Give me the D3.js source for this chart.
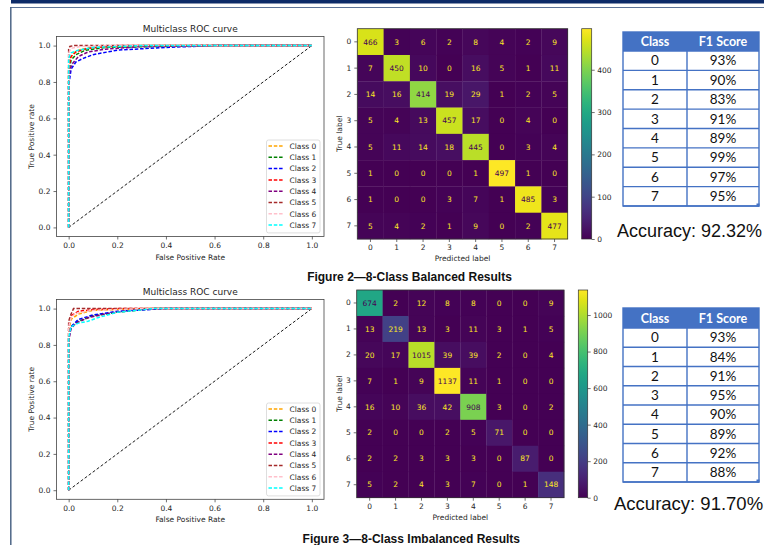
<!DOCTYPE html>
<html><head><meta charset="utf-8">
<script src="https://cdn.jsdelivr.net/npm/d3@7"></script>
<style>
html,body{margin:0;padding:0;background:#fff;}
svg{display:block;}
</style></head>
<body>
<svg id="chart" width="764" height="545"></svg>
<script>
// ---------------- DATA ----------------
const classLabels = ["0","1","2","3","4","5","6","7"];
const rocColors = ["#ffa500","#008000","#0000ff","#ff0000","#800080","#a52a2a","#ffc0cb","#00ffff"];
const legendLabels = ["Class 0","Class 1","Class 2","Class 3","Class 4","Class 5","Class 6","Class 7"];
const rocTicks = [0,0.2,0.4,0.6,0.8,1.0];

// ROC curves (fpr, tpr) – balanced
const rocBal0 = [[0,0],[0,0.88],[0.005,0.93],[0.02,0.96],[0.05,0.98],[0.1,0.99],[0.3,1],[1,1]];
const rocBal1 = [[0,0],[0,0.85],[0.01,0.92],[0.03,0.95],[0.07,0.975],[0.15,0.99],[0.6,1],[1,1]];
const rocBal2 = [[0,0],[0,0.78],[0.01,0.87],[0.03,0.91],[0.06,0.93],[0.1,0.95],[0.2,0.975],[0.4,0.99],[0.6,1],[1,1]];
const rocBal3 = [[0,0],[0,0.88],[0.01,0.94],[0.03,0.965],[0.08,0.985],[0.2,1],[1,1]];
const rocBal4 = [[0,0],[0,0.8],[0.005,0.87],[0.015,0.9],[0.04,0.94],[0.08,0.965],[0.15,0.98],[0.3,0.995],[0.5,1],[1,1]];
const rocBal5 = [[0,0],[0,0.98],[0.005,0.995],[0.02,1],[1,1]];
const rocBal6 = [[0,0],[0,0.96],[0.01,0.985],[0.05,0.995],[0.15,1],[1,1]];
const rocBal7 = [[0,0],[0,0.93],[0.01,0.96],[0.04,0.975],[0.1,0.99],[0.3,1],[1,1]];

// ROC curves – imbalanced
const rocImb0 = [[0,0],[0,0.88],[0.01,0.94],[0.04,0.97],[0.1,0.99],[0.3,1],[1,1]];
const rocImb1 = [[0,0],[0,0.85],[0.01,0.9],[0.04,0.93],[0.1,0.96],[0.2,0.98],[0.35,1],[1,1]];
const rocImb2 = [[0,0],[0,0.84],[0.01,0.9],[0.04,0.94],[0.1,0.965],[0.2,0.985],[0.4,1],[1,1]];
const rocImb3 = [[0,0],[0,0.9],[0.01,0.96],[0.04,0.985],[0.1,0.995],[0.2,1],[1,1]];
const rocImb4 = [[0,0],[0,0.82],[0.01,0.89],[0.03,0.92],[0.08,0.95],[0.15,0.97],[0.25,0.99],[0.35,1],[1,1]];
const rocImb5 = [[0,0],[0,0.93],[0.01,0.97],[0.02,1],[1,1]];
const rocImb6 = [[0,0],[0,0.9],[0.01,0.95],[0.03,0.975],[0.1,0.99],[0.3,1],[1,1]];
const rocImb7 = [[0,0],[0,0.84],[0.01,0.9],[0.04,0.92],[0.08,0.93],[0.12,0.95],[0.2,0.98],[0.35,1],[1,1]];

// Confusion matrices (rows = true, cols = predicted)
const cmBalanced = [
  [466,3,6,2,8,4,2,9],
  [7,450,10,0,16,5,1,11],
  [14,16,414,19,29,1,2,5],
  [5,4,13,457,17,0,4,0],
  [5,11,14,18,445,0,3,4],
  [1,0,0,0,1,497,1,0],
  [1,0,0,3,7,1,485,3],
  [5,4,2,1,9,0,2,477]
];
const cmImbalanced = [
  [674,2,12,8,8,0,0,9],
  [13,219,13,3,11,3,1,5],
  [20,17,1015,39,39,2,0,4],
  [7,1,9,1137,11,1,0,0],
  [16,10,36,42,908,3,0,2],
  [2,0,0,2,5,71,0,0],
  [2,2,3,3,3,0,87,0],
  [5,2,4,3,7,0,1,148]
];
const cbTicksBalanced = [0,100,200,300,400];
const cbTicksImbalanced = [0,200,400,600,800,1000];

// F1 tables
const tableHeader = ["Class","F1 Score"];
const f1Balanced = ["93%","90%","83%","91%","89%","99%","97%","95%"];
const f1Imbalanced = ["93%","84%","91%","95%","90%","89%","92%","88%"];
const accuracyBalanced = "Accuracy: 92.32%";
const accuracyImbalanced = "Accuracy: 91.70%";

const captionBalanced = "Figure 2\u20148-Class Balanced Results";
const captionImbalanced = "Figure 3\u20148-Class Imbalanced Results";

// ---------------- DRAWING ----------------
const svg = d3.select("#chart");
const MPL = "'DejaVu Sans', sans-serif";
const TXT = "#262626";

// page frame
svg.append("rect").attr("x",11).attr("y",0).attr("width",753).attr("height",3.5).attr("fill","#0d2b68");
svg.append("line").attr("x1",10).attr("x2",764).attr("y1",7.5).attr("y2",7.5).attr("stroke","#5d7497").attr("stroke-width",1.2);
svg.append("line").attr("x1",10.8).attr("x2",10.8).attr("y1",7).attr("y2",545).attr("stroke","#4e6687").attr("stroke-width",1.5);

function styleAxis(g){
  g.select(".domain").remove();
  g.selectAll(".tick line").attr("stroke","#333").attr("stroke-width",0.7);
  g.selectAll(".tick text").attr("fill",TXT).attr("font-family",MPL).attr("font-size",7.5);
}

function drawROC(o){
  const g = svg.append("g");
  const x = d3.scaleLinear().domain([-0.05,1.05]).range([o.left,o.right]);
  const y = d3.scaleLinear().domain([-0.05,1.05]).range([o.bottom,o.top]);
  const line = d3.line().x(d=>x(d[0])).y(d=>y(d[1]));
  g.append("path").attr("d",line([[0,0],[1,1]])).attr("fill","none")
    .attr("stroke","#000").attr("stroke-width",0.9).attr("stroke-dasharray","3,2");
  o.curves.forEach((c,i)=>{
    g.append("path").attr("d",line(c)).attr("fill","none")
      .attr("stroke",rocColors[i]).attr("stroke-width",1.5).attr("stroke-dasharray","3.5,1.8");
  });
  g.append("rect").attr("x",o.left).attr("y",o.top).attr("width",o.right-o.left).attr("height",o.bottom-o.top)
    .attr("fill","none").attr("stroke","#444").attr("stroke-width",0.8);
  const fmt = d3.format(".1f");
  g.append("g").attr("transform",`translate(0,${o.bottom})`)
    .call(d3.axisBottom(x).tickValues(rocTicks).tickFormat(fmt).tickSize(3).tickSizeOuter(0).tickPadding(3))
    .call(styleAxis);
  g.append("g").attr("transform",`translate(${o.left},0)`)
    .call(d3.axisLeft(y).tickValues(rocTicks).tickFormat(fmt).tickSize(3).tickSizeOuter(0).tickPadding(3))
    .call(styleAxis);
  const cx = (o.left+o.right)/2;
  g.append("text").attr("x",cx).attr("y",o.top-5).attr("text-anchor","middle")
    .attr("font-family",MPL).attr("font-size",9).attr("fill",TXT).text("Multiclass ROC curve");
  g.append("text").attr("x",cx).attr("y",o.bottom+23).attr("text-anchor","middle")
    .attr("font-family",MPL).attr("font-size",7.5).attr("fill",TXT).text("False Positive Rate");
  g.append("text").attr("transform",`translate(${o.left-23},${(o.top+o.bottom)/2}) rotate(-90)`)
    .attr("text-anchor","middle").attr("font-family",MPL).attr("font-size",7.5).attr("fill",TXT).text("True Positive rate");
  const lg = g.append("g");
  const lx = o.right-57.5, ly = o.legendTop, step = 11.3;
  lg.append("rect").attr("x",lx).attr("y",ly).attr("width",53.5).attr("height",step*8+2.5)
    .attr("rx",2).attr("fill","#fff").attr("fill-opacity",0.85).attr("stroke","#d5d5d5").attr("stroke-width",0.8);
  legendLabels.forEach((lab,i)=>{
    const yy = ly + 6 + i*step;
    lg.append("line").attr("x1",lx+2).attr("x2",lx+17).attr("y1",yy).attr("y2",yy)
      .attr("stroke",rocColors[i]).attr("stroke-width",1.5).attr("stroke-dasharray","3.5,1.8");
    lg.append("text").attr("x",lx+23).attr("y",yy+2.7).attr("font-family",MPL).attr("font-size",7.5)
      .attr("fill",TXT).text(lab);
  });
}

function drawCM(o){
  const g = svg.append("g");
  const data = o.data;
  const vmax = d3.max(data.flat());
  const color = d3.scaleSequential(d3.interpolateViridis).domain([0,vmax]);
  const xb = d3.scaleBand().domain(classLabels).range([o.left,o.right]);
  const yb = d3.scaleBand().domain(classLabels).range([o.top,o.bottom]);
  data.forEach((row,i)=>row.forEach((v,j)=>{
    g.append("rect").attr("x",xb(classLabels[j])).attr("y",yb(classLabels[i]))
      .attr("width",xb.bandwidth()+0.3).attr("height",yb.bandwidth()+0.3).attr("fill",color(v));
  }));
  data.forEach((row,i)=>row.forEach((v,j)=>{
    g.append("text").attr("x",xb(classLabels[j])+xb.bandwidth()/2).attr("y",yb(classLabels[i])+yb.bandwidth()/2+2.7)
      .attr("text-anchor","middle").attr("font-family",MPL).attr("font-size",7.5)
      .attr("fill", v < vmax/2 ? "#fde725" : "#440154").text(v);
  }));
  g.append("rect").attr("x",o.left).attr("y",o.top).attr("width",o.right-o.left).attr("height",o.bottom-o.top)
    .attr("fill","none").attr("stroke","#333").attr("stroke-width",0.8);
  g.append("g").attr("transform",`translate(0,${o.bottom})`)
    .call(d3.axisBottom(xb).tickSize(3).tickSizeOuter(0).tickPadding(3)).call(styleAxis);
  g.append("g").attr("transform",`translate(${o.left},0)`)
    .call(d3.axisLeft(yb).tickSize(3).tickSizeOuter(0).tickPadding(3)).call(styleAxis);
  const cx = (o.left+o.right)/2;
  g.append("text").attr("x",cx).attr("y",o.bottom+22).attr("text-anchor","middle")
    .attr("font-family",MPL).attr("font-size",7.5).attr("fill",TXT).text("Predicted label");
  g.append("text").attr("transform",`translate(${o.left-15},${(o.top+o.bottom)/2}) rotate(-90)`)
    .attr("text-anchor","middle").attr("font-family",MPL).attr("font-size",7.5).attr("fill",TXT).text("True label");
  const gid = "grad"+o.id;
  const grad = svg.append("defs").append("linearGradient").attr("id",gid)
    .attr("x1","0").attr("y1","1").attr("x2","0").attr("y2","0");
  d3.range(0,1.0001,0.05).forEach(t=>{
    grad.append("stop").attr("offset",t).attr("stop-color",d3.interpolateViridis(t));
  });
  g.append("rect").attr("x",o.cbLeft).attr("y",o.top).attr("width",o.cbWidth).attr("height",o.bottom-o.top)
    .attr("fill",`url(#${gid})`).attr("stroke","#333").attr("stroke-width",0.7);
  const cy = d3.scaleLinear().domain([0,vmax]).range([o.bottom,o.top]);
  g.append("g").attr("transform",`translate(${o.cbLeft+o.cbWidth},0)`)
    .call(d3.axisRight(cy).tickValues(o.cbTicks).tickFormat(d3.format("d")).tickSize(3).tickSizeOuter(0).tickPadding(2.5)).call(styleAxis);
}

function drawTable(o){
  const g = svg.append("g");
  const BLUE = "#4472c4";
  const FONT = "Lato, 'Open Sans', sans-serif";
  const cols = [o.left,o.div,o.right];
  const rowY = d3.scaleLinear().domain([0,o.rows.length]).range([o.headBottom,o.bottom]);
  g.append("rect").attr("x",o.left).attr("y",o.top).attr("width",o.right-o.left).attr("height",o.headBottom-o.top).attr("fill",BLUE);
  g.append("rect").attr("x",o.left).attr("y",o.headBottom).attr("width",o.right-o.left).attr("height",o.bottom-o.headBottom).attr("fill","#fff");
  tableHeader.forEach((h,k)=>{
    g.append("text").attr("x",(cols[k]+cols[k+1])/2).attr("y",(o.top+o.headBottom)/2+4.5)
      .attr("text-anchor","middle").attr("font-family",FONT).attr("font-weight","bold").attr("font-size",12.5)
      .attr("fill","#fff").text(h);
  });
  o.rows.forEach((r,i)=>{
    const y0 = rowY(i), y1 = rowY(i+1);
    [classLabels[i], r].forEach((t,k)=>{
      g.append("text").attr("x",(cols[k]+cols[k+1])/2).attr("y",(y0+y1)/2+4.8)
        .attr("text-anchor","middle").attr("font-family",FONT).attr("font-size",13.5)
        .attr("fill","#111").text(t);
    });
    g.append("line").attr("x1",o.left).attr("x2",o.right).attr("y1",y1).attr("y2",y1)
      .attr("stroke",BLUE).attr("stroke-width",1.4);
  });
  g.append("line").attr("x1",o.div).attr("x2",o.div).attr("y1",o.headBottom).attr("y2",o.bottom)
    .attr("stroke",BLUE).attr("stroke-width",1.4);
  g.append("line").attr("x1",o.left).attr("x2",o.right).attr("y1",o.headBottom).attr("y2",o.headBottom)
    .attr("stroke",BLUE).attr("stroke-width",1.4);
  g.append("rect").attr("x",o.left).attr("y",o.top).attr("width",o.right-o.left).attr("height",o.bottom-o.top)
    .attr("fill","none").attr("stroke",BLUE).attr("stroke-width",1.4);
  g.append("rect").attr("x",o.right-2.5).attr("y",o.bottom-2.5).attr("width",3).attr("height",3).attr("fill",BLUE);
  g.append("text").attr("x",o.accX).attr("y",o.accY).attr("font-family","'Liberation Sans', Arial, sans-serif")
    .attr("font-size",o.accSize).attr("fill","#111").text(o.acc);
}

// ---- Figure 2 (balanced) ----
drawROC({left:56.5,right:324,top:36.5,bottom:236.5,legendTop:140,
  curves:[rocBal0,rocBal1,rocBal2,rocBal3,rocBal4,rocBal5,rocBal6,rocBal7]});
drawCM({id:"b",data:cmBalanced,left:357.3,right:567.7,top:28.7,bottom:239,cbLeft:581.7,cbWidth:10,cbTicks:cbTicksBalanced});
drawTable({left:623,div:687,right:759,top:32,headBottom:51,bottom:206,rows:f1Balanced,acc:accuracyBalanced,accX:617,accY:237,accSize:18});

// ---- Figure 3 (imbalanced) ----
drawROC({left:56.5,right:324,top:299.5,bottom:499.3,legendTop:403,
  curves:[rocImb0,rocImb1,rocImb2,rocImb3,rocImb4,rocImb5,rocImb6,rocImb7]});
drawCM({id:"i",data:cmImbalanced,left:356.7,right:564,top:290,bottom:497.7,cbLeft:578.3,cbWidth:9.4,cbTicks:cbTicksImbalanced});
drawTable({left:623,div:687,right:759,top:308,headBottom:328,bottom:482,rows:f1Imbalanced,acc:accuracyImbalanced,accX:614,accY:510,accSize:18.5});

// captions
svg.append("text").attr("x",409.5).attr("y",280.5).attr("text-anchor","middle")
  .attr("font-family","'Liberation Sans', Arial, sans-serif").attr("font-weight","bold").attr("font-size",12)
  .attr("fill","#111").text(captionBalanced);
svg.append("text").attr("x",411.3).attr("y",542.7).attr("text-anchor","middle")
  .attr("font-family","'Liberation Sans', Arial, sans-serif").attr("font-weight","bold").attr("font-size",12)
  .attr("fill","#111").text(captionImbalanced);
</script>
</body></html>
